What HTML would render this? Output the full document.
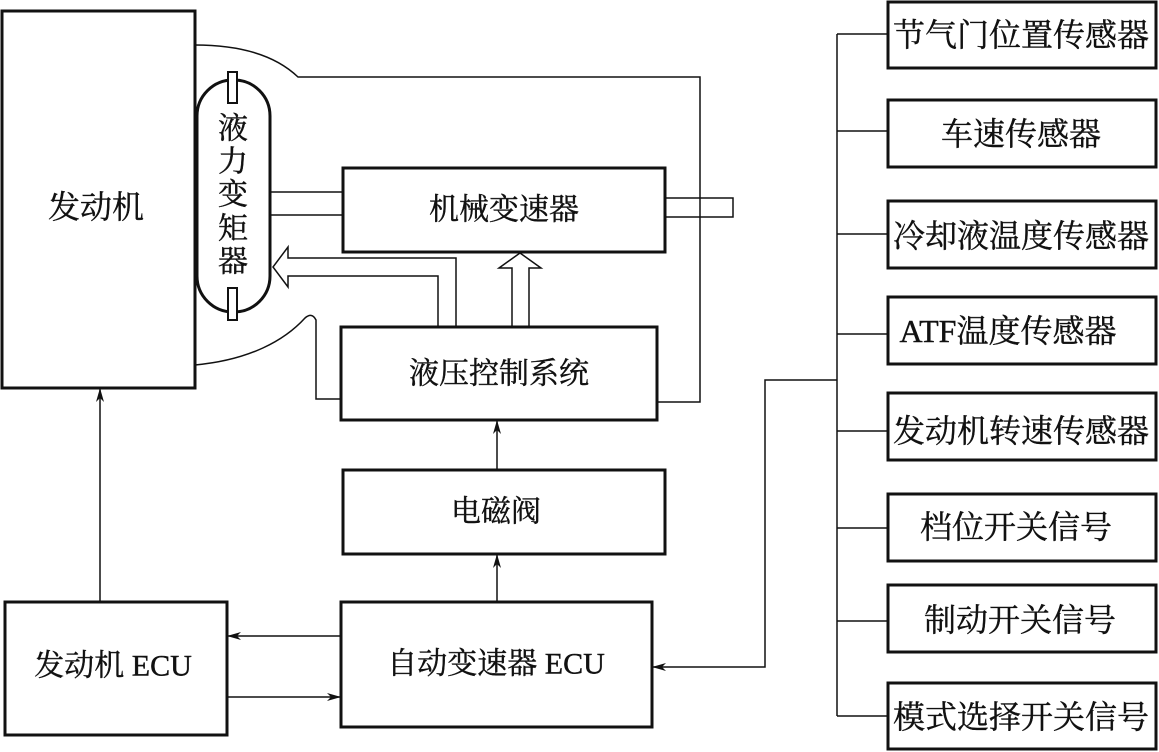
<!DOCTYPE html>
<html><head><meta charset="utf-8"><style>
html,body{margin:0;padding:0;background:#fff;}
svg{display:block;}
text{font-family:"Liberation Serif","Noto Serif CJK SC",serif;fill:#111;stroke:#111;stroke-width:0.4;}
</style></head><body>
<svg width="1159" height="752" viewBox="0 0 1159 752" xmlns="http://www.w3.org/2000/svg">
<defs>
<marker id="ah" markerWidth="14" markerHeight="8" refX="13" refY="4" orient="auto" markerUnits="userSpaceOnUse">
<path d="M0,0 L14,4 L0,8 L4,4 Z" fill="#111"/>
</marker>
</defs>
<g fill="none" stroke="#111">
<rect x="2" y="11" width="193" height="377" stroke-width="3"/>
<path d="M195,45 C240,45 275,55 298,77 L700,77 L700,402 L657,402" stroke-width="1.5"/>
<path d="M195,365 C250,360 285,340 305,318 Q312,312 316,320 L316,399 L341,399" stroke-width="1.5"/>
<rect x="197" y="80" width="73" height="232" rx="36" ry="36" stroke-width="3" fill="#fff"/>
<rect x="228" y="72" width="9" height="31" stroke-width="2" fill="#fff"/>
<rect x="228" y="288" width="9" height="32" stroke-width="2" fill="#fff"/>
<line x1="270" y1="192" x2="343" y2="192" stroke-width="1.5"/>
<line x1="270" y1="215" x2="343" y2="215" stroke-width="1.5"/>
<rect x="343" y="168" width="322" height="84" stroke-width="3"/>
<path d="M665,198 L733,198 L733,217 L665,217" stroke-width="1.5"/>
<path d="M438,327 L438,276 L288,276 L288,287 L273,267 L288,247 L288,258 L456,258 L456,327" stroke-width="1.5" fill="#fff"/>
<path d="M512,327 L512,268 L499,268 L520,253 L541,268 L529,268 L529,327" stroke-width="1.5" fill="#fff"/>
<rect x="341" y="327" width="316" height="93" stroke-width="3"/>
<rect x="343" y="470" width="322" height="84" stroke-width="3"/>
<line x1="497" y1="470" x2="497" y2="421" stroke-width="1.5" marker-end="url(#ah)"/>
<rect x="341" y="602" width="311" height="125" stroke-width="3"/>
<line x1="497" y1="602" x2="497" y2="555" stroke-width="1.5" marker-end="url(#ah)"/>
<rect x="5" y="602" width="222" height="133" stroke-width="3"/>
<line x1="100" y1="602" x2="100" y2="389" stroke-width="1.5" marker-end="url(#ah)"/>
<line x1="341" y1="636" x2="228" y2="636" stroke-width="1.5" marker-end="url(#ah)"/>
<line x1="227" y1="697" x2="340" y2="697" stroke-width="1.5" marker-end="url(#ah)"/>
<polyline points="837,380 765,380 765,667 653,667" stroke-width="1.5" marker-end="url(#ah)"/>
<line x1="837" y1="34" x2="837" y2="716" stroke-width="1.5"/>
<g stroke-width="1.5">
<line x1="837" y1="34" x2="888" y2="34"/>
<line x1="837" y1="131" x2="888" y2="131"/>
<line x1="837" y1="234" x2="888" y2="234"/>
<line x1="837" y1="334" x2="888" y2="334"/>
<line x1="837" y1="431" x2="888" y2="431"/>
<line x1="837" y1="528" x2="888" y2="528"/>
<line x1="837" y1="621" x2="888" y2="621"/>
<line x1="837" y1="716" x2="888" y2="716"/>
</g>
<g stroke-width="3">
<rect x="888" y="2" width="268" height="66"/>
<rect x="888" y="100" width="268" height="67"/>
<rect x="888" y="201" width="268" height="67"/>
<rect x="888" y="297" width="268" height="67"/>
<rect x="888" y="393" width="268" height="67"/>
<rect x="888" y="494" width="268" height="67"/>
<rect x="888" y="585" width="268" height="67"/>
<rect x="888" y="683" width="268" height="66"/>
</g>
</g>
<g font-size="30" text-anchor="middle" dominant-baseline="central">
<text x="96" y="207" font-size="32">发动机</text>
<text x="233" y="129">液</text>
<text x="233" y="162">力</text>
<text x="233" y="195">变</text>
<text x="233" y="229">矩</text>
<text x="233" y="262">器</text>
<text x="504" y="210">机械变速器</text>
<text x="499" y="374">液压控制系统</text>
<text x="496" y="512">电磁阀</text>
<text x="496" y="664">自动变速器 ECU</text>
<text x="113" y="666">发动机 ECU</text>
<text x="1021" y="35" font-size="32">节气门位置传感器</text>
<text x="1021" y="134" font-size="32">车速传感器</text>
<text x="1021" y="236" font-size="32">冷却液温度传感器</text>
<text x="1008" y="331" font-size="32">ATF温度传感器</text>
<text x="1021" y="431" font-size="32">发动机转速传感器</text>
<text x="1016" y="527" font-size="32">档位开关信号</text>
<text x="1020" y="620" font-size="32">制动开关信号</text>
<text x="1021" y="717" font-size="32">模式选择开关信号</text>
</g>
</svg>
</body></html>
